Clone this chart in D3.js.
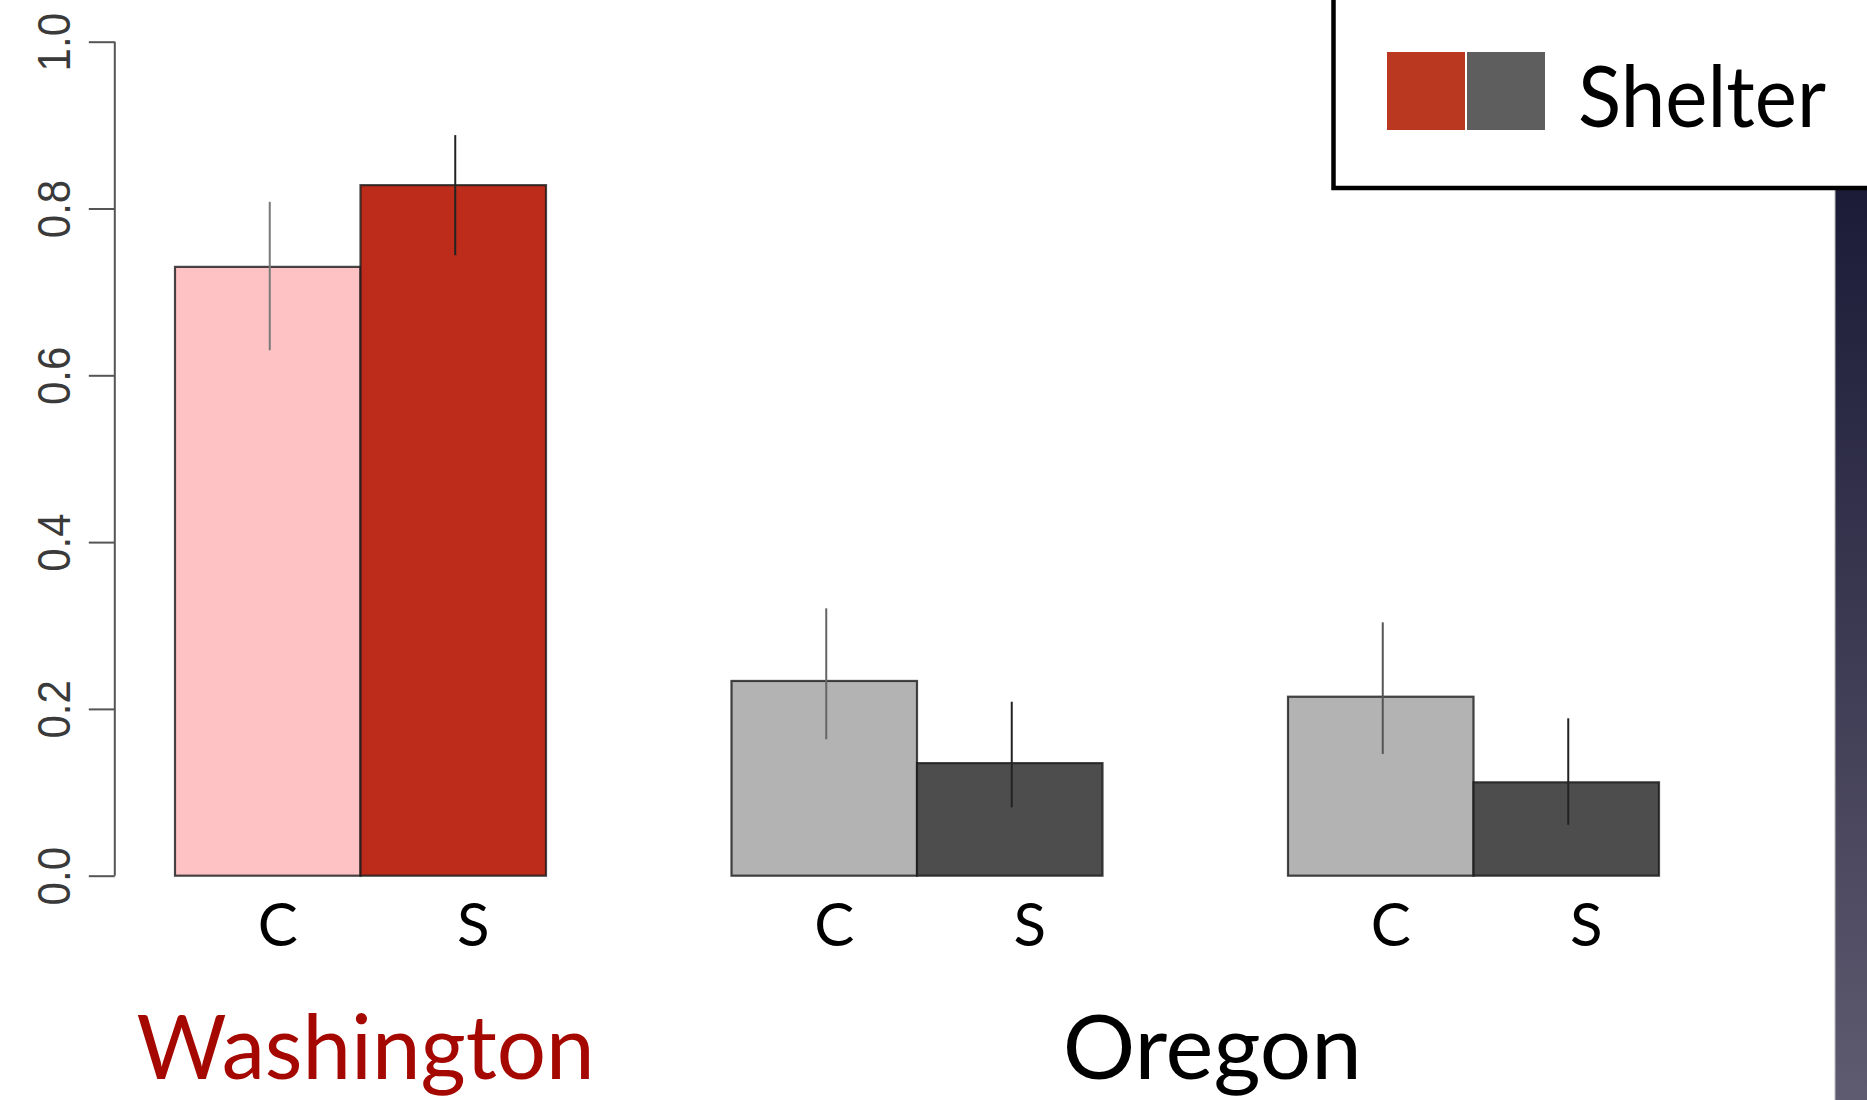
<!DOCTYPE html>
<html><head><meta charset="utf-8">
<script src="https://cdn.jsdelivr.net/npm/d3@7"></script>
<style>html,body{margin:0;padding:0;background:#fff;overflow:hidden}</style>
</head><body>
<svg id="c" width="1867" height="1100"></svg>
<script>
// ---- data ----
const slots = ["W-C","W-S","gap1","O1-C","O1-S","gap2","O2-C","O2-S"];
const barKeys = ["W-C","W-S","O1-C","O1-S","O2-C","O2-S"];
const conditions = ["C","S","C","S","C","S"];
const means = [0.730, 0.828, 0.2335, 0.135, 0.2146, 0.112];
const errLow = [0.630, 0.744, 0.1636, 0.082, 0.146, 0.061];
const errHigh = [0.808, 0.888, 0.3206, 0.2086, 0.3038, 0.1887];
const barColors = ["#FFC2C4","#BD2C1B","#B3B3B3","#4D4D4D","#B3B3B3","#4D4D4D"];
const errColors = ["#7a7a7a","#222","#666","#222","#555","#222"];
const yTicks = [0, 0.2, 0.4, 0.6, 0.8, 1.0];
const groupLabels = ["Washington","Oregon"];
const groupSlots = [["W-C","W-S"],["O1-C","O2-S"]];
const groupColors = ["#A50800","#000"];
const legendLabel = "Shelter";
const legendColors = ["#BB3820","#5E5E5E"];

const svg = d3.select("#c");
const x = d3.scaleBand().domain(slots).range([175,1659]).padding(0);
const y = d3.scaleLinear().domain([0,1]).range([875.7,41.7]);

// y axis
const axis = d3.axisLeft(y).tickValues(yTicks).tickSize(26).tickFormat(d3.format(".1f"));
const ag = svg.append("g").attr("transform","translate(114.8,0)").call(axis);
ag.select(".domain").attr("stroke","#555").attr("stroke-width",2).attr("d","M0,"+y(0)+"V"+y(1));
ag.selectAll(".tick line").attr("stroke","#555").attr("stroke-width",2);
ag.selectAll(".tick text").remove();
ag.selectAll(".tick").append("text")
  .attr("transform","translate(-62,0) scale(1.12,1) rotate(-90)")
  .attr("text-anchor","middle").attr("dy","0.36em")
  .attr("fill","#3a3a3a").attr("font-family","'Liberation Sans',Arial,sans-serif")
  .attr("font-size",42)
  .text(d=>d3.format(".1f")(d));

// bars
svg.selectAll("rect.bar").data(barKeys).join("rect").attr("class","bar")
  .attr("x",(d)=>x(d)).attr("width",x.bandwidth())
  .attr("y",(d,i)=>y(means[i])).attr("height",(d,i)=>y(0)-y(means[i]))
  .attr("fill",(d,i)=>barColors[i]).attr("stroke","rgba(25,25,25,0.8)").attr("stroke-width",2.2);

// error bars
svg.selectAll("line.err").data(barKeys).join("line").attr("class","err")
  .attr("x1",d=>x(d)+x.bandwidth()/2+2).attr("x2",d=>x(d)+x.bandwidth()/2+2)
  .attr("y1",(d,i)=>y(errHigh[i])).attr("y2",(d,i)=>y(errLow[i]))
  .attr("stroke",(d,i)=>errColors[i]).attr("stroke-width",2);

// condition labels
const condDx = {C:10, S:20};
svg.selectAll("text.cond").data(barKeys).join("text").attr("class","cond")
  .attr("x",(d,i)=>x(d)+x.bandwidth()/2+condDx[conditions[i]]).attr("y",946)
  .attr("text-anchor","middle").attr("font-family","Lato, sans-serif").attr("font-size",60)
  .attr("fill","#000").text((d,i)=>conditions[i]);

// group labels
const gWidths = [458, 299];
const gDx = [5, 17];
svg.selectAll("text.grp").data(groupLabels).join("text").attr("class","grp")
  .attr("x",(d,i)=>(x(groupSlots[i][0])+x(groupSlots[i][1])+x.bandwidth())/2+gDx[i])
  .attr("y",1079).attr("text-anchor","middle")
  .attr("font-family","Lato, sans-serif").attr("font-size",90)
  .attr("textLength",(d,i)=>gWidths[i]).attr("lengthAdjust","spacingAndGlyphs")
  .attr("fill",(d,i)=>groupColors[i]).text(d=>d);

// dark side panel
const defs = svg.append("defs");
const gr = defs.append("linearGradient").attr("id","pg").attr("x1",0).attr("y1",0).attr("x2",0).attr("y2",1);
gr.append("stop").attr("offset","0%").attr("stop-color","#1b1b37");
gr.append("stop").attr("offset","100%").attr("stop-color","#5f5b70");
svg.append("rect").attr("x",1835).attr("y",188).attr("width",40).attr("height",920).attr("fill","url(#pg)");
svg.append("line").attr("x1",1835).attr("x2",1835).attr("y1",188).attr("y2",1100).attr("stroke","#bbb").attr("stroke-width",1);

// legend
svg.append("rect").attr("x",1333.5).attr("y",-20).attr("width",600).attr("height",208)
  .attr("fill","#fff").attr("stroke","#000").attr("stroke-width",4.5);
const lg = svg.append("g");
lg.selectAll("rect").data(legendColors).join("rect")
  .attr("x",(d,i)=>1387+i*80).attr("y",52).attr("width",78).attr("height",78).attr("fill",d=>d);
lg.append("text").attr("x",1578).attr("y",127).attr("font-family","Lato, sans-serif").attr("font-size",86)
  .attr("textLength",248).attr("lengthAdjust","spacingAndGlyphs").attr("fill","#000").text(legendLabel);
</script>
</body></html>
